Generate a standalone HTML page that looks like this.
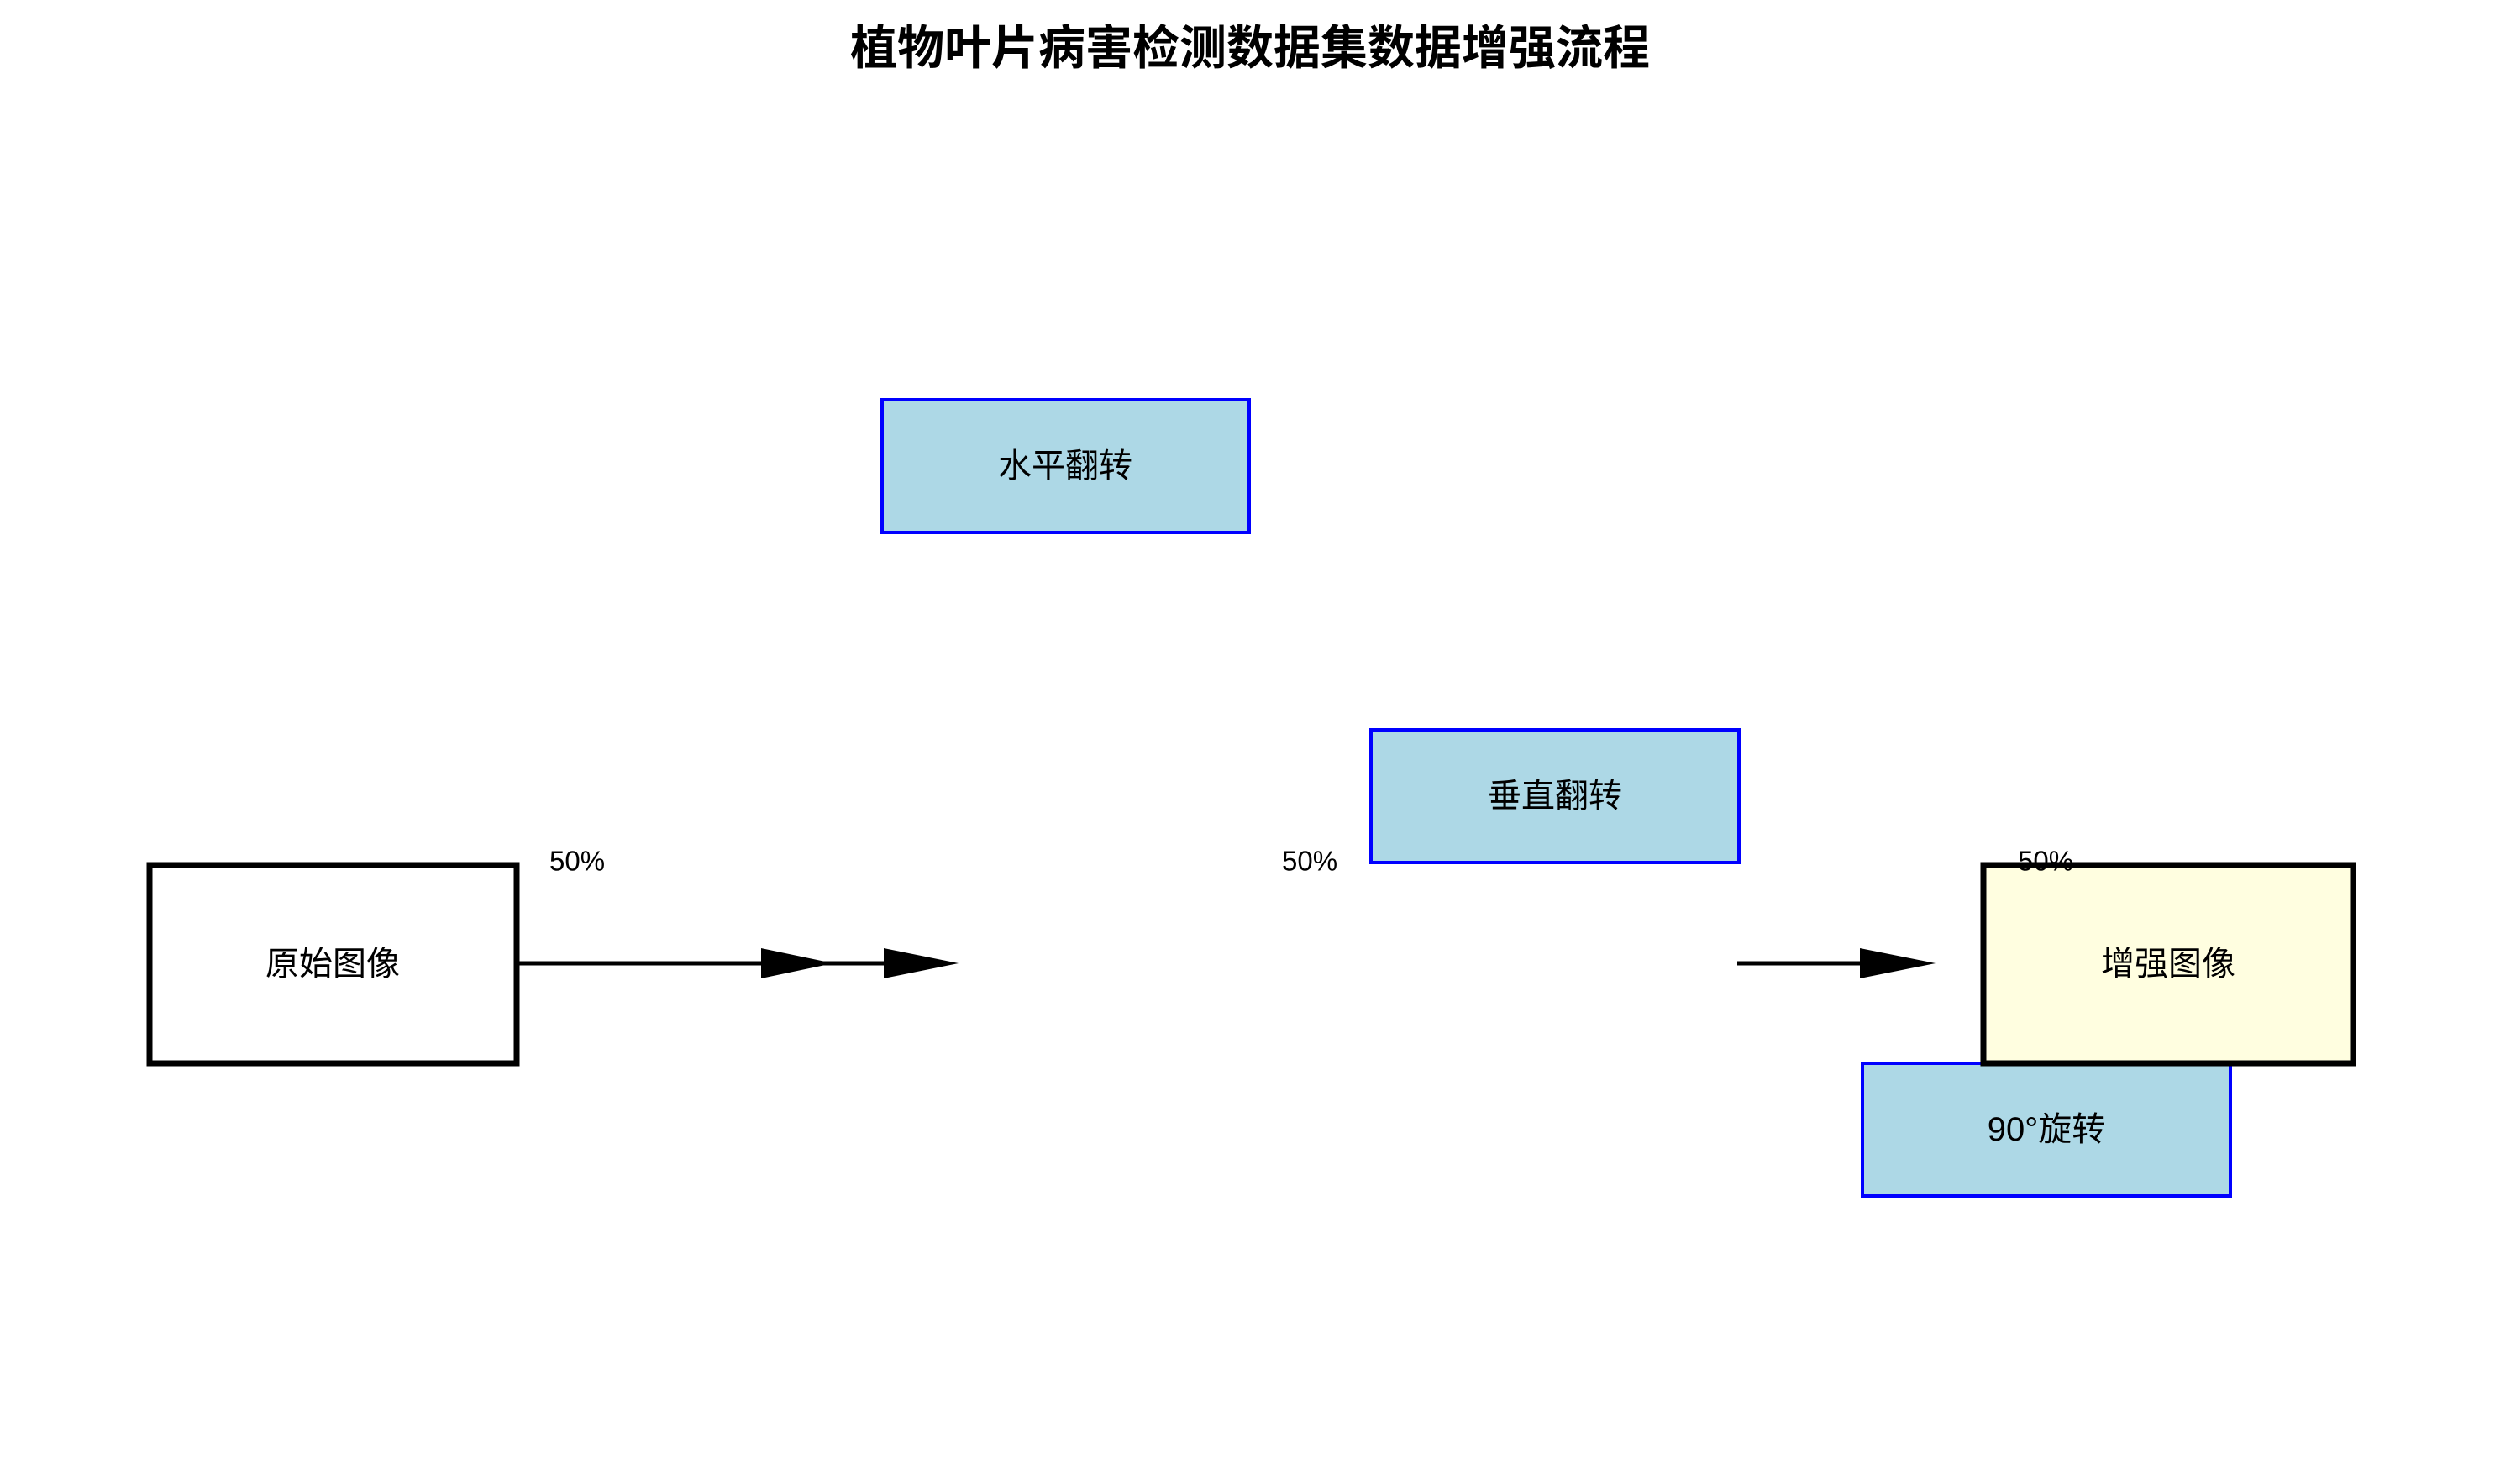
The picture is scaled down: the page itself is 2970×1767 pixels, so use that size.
<!DOCTYPE html>
<html><head><meta charset="utf-8"><style>
html,body{margin:0;padding:0;background:#fff;}
svg{display:block;}
text{font-family:"Liberation Sans","Noto Sans CJK SC",sans-serif;}
</style></head><body>
<svg width="2970" height="1767" viewBox="0 0 2970 1767" xmlns="http://www.w3.org/2000/svg">
<rect width="2970" height="1767" fill="#fff"/>
<text x="1488" y="57" font-size="56" font-weight="bold" text-anchor="middle" dominant-baseline="central">植物叶片病害检测数据集数据增强流程</text>

<rect x="1050" y="476" width="437" height="158" fill="#add8e6" stroke="#0000ff" stroke-width="4"/>
<text x="1268" y="555" font-size="40" text-anchor="middle" dominant-baseline="central">水平翻转</text>

<rect x="1632" y="869" width="438" height="158" fill="#add8e6" stroke="#0000ff" stroke-width="4"/>
<text x="1851" y="948" font-size="40" text-anchor="middle" dominant-baseline="central">垂直翻转</text>

<rect x="2217" y="1266" width="438" height="158" fill="#add8e6" stroke="#0000ff" stroke-width="4"/>
<text x="2436" y="1345" font-size="40" text-anchor="middle" dominant-baseline="central">90°旋转</text>

<rect x="178" y="1030" width="437" height="236" fill="#fff" stroke="#000" stroke-width="7"/>
<text x="396" y="1148" font-size="40" text-anchor="middle" dominant-baseline="central">原始图像</text>

<rect x="2361" y="1030" width="440" height="236" fill="#fffee0" stroke="#000" stroke-width="7"/>
<text x="2581" y="1148" font-size="40" text-anchor="middle" dominant-baseline="central">增强图像</text>

<line x1="618" y1="1147" x2="1120" y2="1147" stroke="#000" stroke-width="5"/>
<polygon points="906,1129 992,1147 906,1165" fill="#000"/>
<polygon points="1052,1129 1141,1147 1052,1165" fill="#000"/>
<line x1="2068" y1="1147" x2="2230" y2="1147" stroke="#000" stroke-width="5"/>
<polygon points="2214,1129 2304,1147 2214,1165" fill="#000"/>

<text x="654" y="1025" font-size="33" dominant-baseline="central">50%</text>
<text x="1526" y="1025" font-size="33" dominant-baseline="central">50%</text>
<text x="2402" y="1025" font-size="33" dominant-baseline="central">50%</text>
</svg>
</body></html>
